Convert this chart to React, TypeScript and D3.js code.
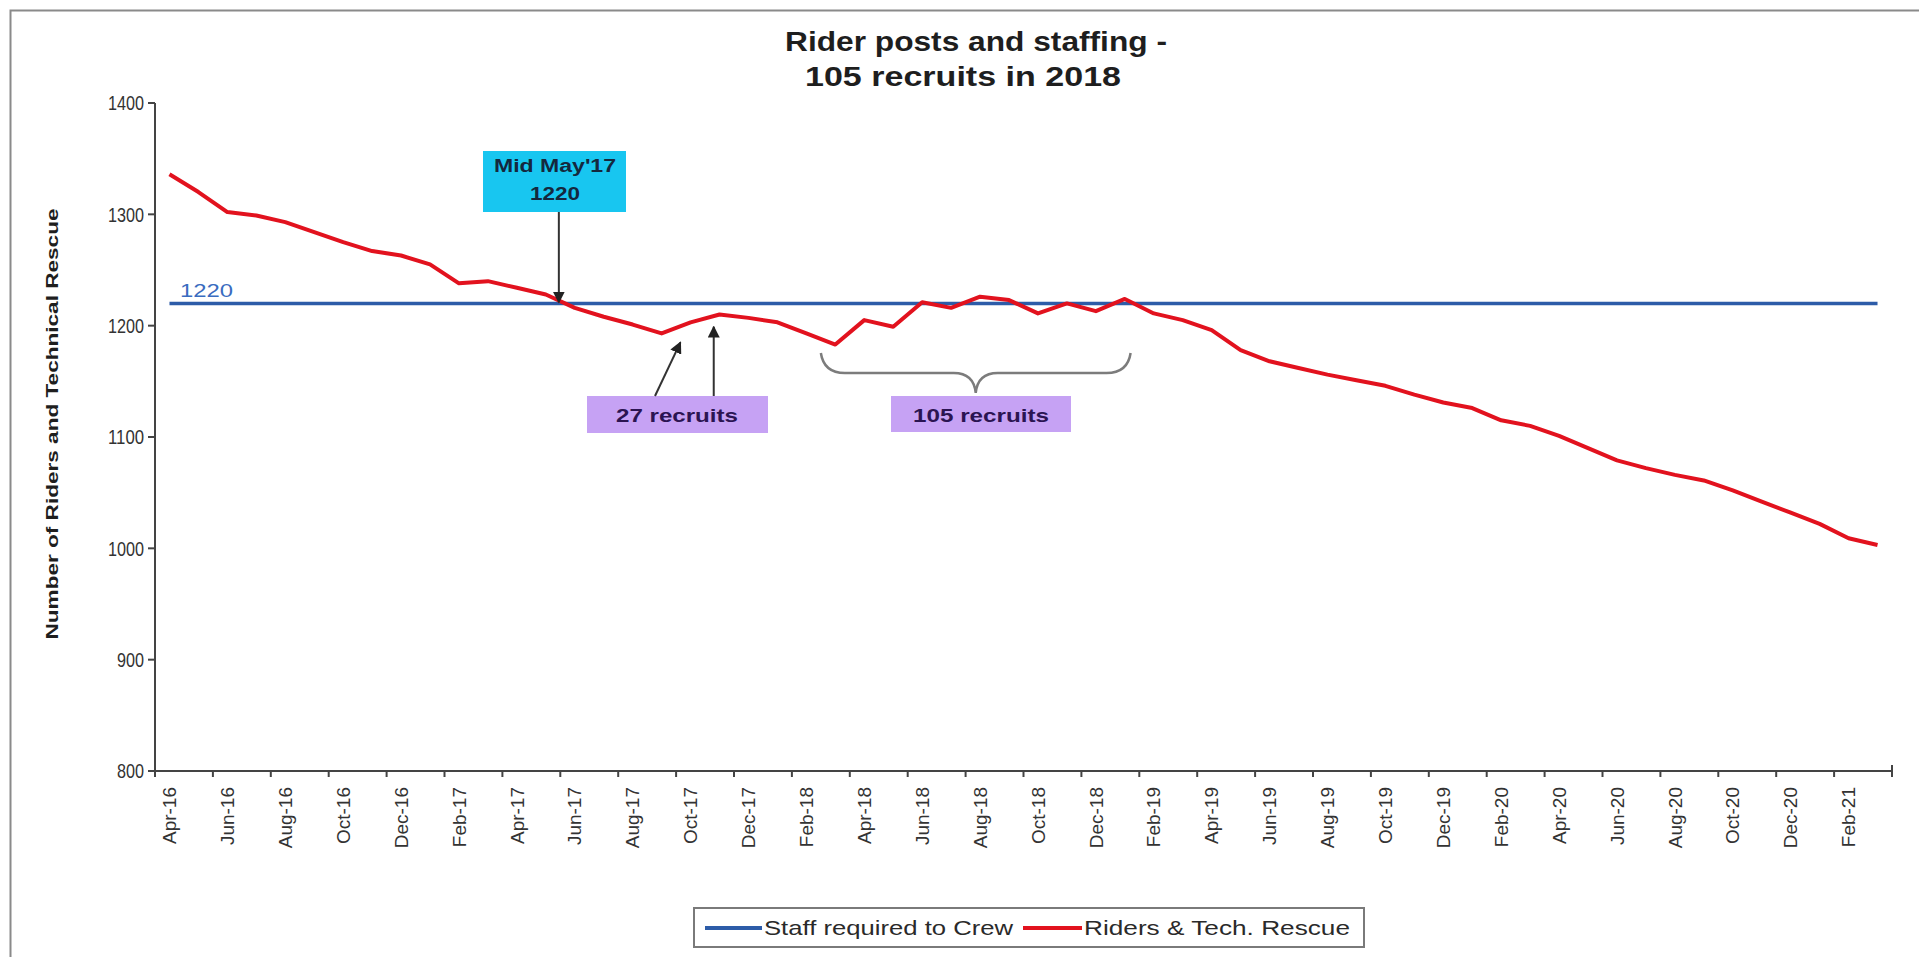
import React from "react";
import * as d3 from "d3";

// categories: one per month, Apr-16 .. Mar-21
const months = [
  "Apr-16", "May-16", "Jun-16", "Jul-16", "Aug-16", "Sep-16", "Oct-16", "Nov-16", "Dec-16",
  "Jan-17", "Feb-17", "Mar-17", "Apr-17", "May-17", "Jun-17", "Jul-17", "Aug-17", "Sep-17",
  "Oct-17", "Nov-17", "Dec-17", "Jan-18", "Feb-18", "Mar-18", "Apr-18", "May-18", "Jun-18",
  "Jul-18", "Aug-18", "Sep-18", "Oct-18", "Nov-18", "Dec-18", "Jan-19", "Feb-19", "Mar-19",
  "Apr-19", "May-19", "Jun-19", "Jul-19", "Aug-19", "Sep-19", "Oct-19", "Nov-19", "Dec-19",
  "Jan-20", "Feb-20", "Mar-20", "Apr-20", "May-20", "Jun-20", "Jul-20", "Aug-20", "Sep-20",
  "Oct-20", "Nov-20", "Dec-20", "Jan-21", "Feb-21", "Mar-21",
];

// Riders & Tech. Rescue
const riders = [
  1336, 1320, 1302, 1299, 1293, 1284, 1275, 1267, 1263,
  1255, 1238, 1240, 1234, 1228, 1216, 1208, 1201, 1193,
  1203, 1210, 1207, 1203, 1193, 1183, 1205, 1199, 1221,
  1216, 1226, 1223, 1211, 1220, 1213, 1224, 1211, 1205,
  1196, 1178, 1168, 1162, 1156, 1151, 1146, 1138, 1131,
  1126, 1115, 1110, 1101, 1090, 1079, 1072, 1066, 1061,
  1052, 1042, 1032, 1022, 1009, 1003,
];

// Staff required to Crew
const required = 1220;

const yTicks = [800, 900, 1000, 1100, 1200, 1300, 1400];
const xTickLabels = months.filter((_, i) => i % 2 === 0);

const W = 1919;
const H = 957;
const FONT = "'Liberation Sans', Arial, sans-serif";

const x = d3.scaleBand<string>().domain(months).range([155, 1892]);
const y = d3.scaleLinear().domain([800, 1400]).range([771, 103]);
const bw = x.bandwidth();
const xc = (m: string) => (x(m) as number) + bw / 2;
// fractional month position (index units) -> pixel
const xi = (i: number) => 155 + (i + 0.5) * bw;

const redLine = d3
  .line<number>()
  .x((_, i) => xc(months[i]))
  .y((d) => y(d))(riders) as string;

const Arrow = ({ x1, y1, x2, y2 }: { x1: number; y1: number; x2: number; y2: number }) => (
  <line x1={x1} y1={y1} x2={x2} y2={y2} stroke="#333" strokeWidth={2} markerEnd="url(#arr)" />
);

export default function App() {
  const x0 = xc(months[0]);
  const x1 = xc(months[months.length - 1]);
  const yReq = y(required);
  const midMayX = xi(13.45);
  const braceL = xi(22.5);
  const braceR = xi(33.2);
  const braceM = (braceL + braceR) / 2;
  const bt = 353;

  return (
    <svg
      width={W}
      height={H}
      style={{ position: "absolute", left: 0, top: 0, background: "#fff" }}
      fontFamily={FONT}
    >
      <defs>
        <marker id="arr" viewBox="0 0 10 10" refX="9" refY="5" markerWidth="6" markerHeight="6" orient="auto-start-reverse" markerUnits="strokeWidth">
          <path d="M0,0 L10,5 L0,10 z" fill="#222" />
        </marker>
      </defs>

      <rect x={10.5} y={10.5} width={W + 10} height={H + 10} fill="none" stroke="#8a8a8a" strokeWidth={2} />

      {/* title */}
      <text x={785} y={51} fontSize={27} fontWeight="bold" fill="#1e1e1e" textLength={382} lengthAdjust="spacingAndGlyphs">
        Rider posts and staffing -
      </text>
      <text x={805} y={86} fontSize={27} fontWeight="bold" fill="#1e1e1e" textLength={316} lengthAdjust="spacingAndGlyphs">
        105 recruits in 2018
      </text>

      {/* y axis */}
      <line x1={155} x2={155} y1={y(1400)} y2={y(800)} stroke="#444" strokeWidth={2} />
      {yTicks.map((t) => (
        <g key={t}>
          <line x1={148} x2={155} y1={y(t)} y2={y(t)} stroke="#444" strokeWidth={2} />
          <text x={144} y={y(t)} dy="0.36em" textAnchor="end" fontSize={20} fill="#333"
            textLength={String(t).length * 9} lengthAdjust="spacingAndGlyphs">
            {t}
          </text>
        </g>
      ))}
      <text
        transform={`translate(58,424) rotate(-90)`}
        textAnchor="middle"
        fontSize={17}
        fontWeight="bold"
        fill="#1e1e1e"
        textLength={431}
        lengthAdjust="spacingAndGlyphs"
      >
        Number of Riders and Technical Rescue
      </text>

      {/* x axis */}
      <line x1={155} x2={1892} y1={771} y2={771} stroke="#444" strokeWidth={2} />
      {xTickLabels.map((m) => (
        <line key={m} x1={x(m)} x2={x(m)} y1={771} y2={777} stroke="#444" strokeWidth={2} />
      ))}
      <line x1={1892} x2={1892} y1={765} y2={777} stroke="#444" strokeWidth={2} />
      {xTickLabels.map((m) => (
        <text
          key={m}
          transform={`translate(${xc(m)},787) rotate(-90)`}
          dy="0.35em"
          textAnchor="end"
          fontSize={19}
          fill="#333"
        >
          {m}
        </text>
      ))}

      {/* series */}
      <line x1={x0} x2={x1} y1={yReq} y2={yReq} stroke="#2d5ca8" strokeWidth={3.5} />
      <text x={180} y={297} fontSize={19} fill="#3a6cc0" textLength={53} lengthAdjust="spacingAndGlyphs">
        1220
      </text>
      <path d={redLine} fill="none" stroke="#e2121e" strokeWidth={4} strokeLinejoin="round" />

      {/* Mid May'17 annotation */}
      <rect x={483} y={151} width={143} height={61} fill="#18c6f0" />
      <text x={555} y={172} textAnchor="middle" fontSize={18} fontWeight="bold" fill="#14283e"
        textLength={122} lengthAdjust="spacingAndGlyphs">
        Mid May'17
      </text>
      <text x={555} y={200} textAnchor="middle" fontSize={18} fontWeight="bold" fill="#14283e"
        textLength={50} lengthAdjust="spacingAndGlyphs">
        1220
      </text>
      <Arrow x1={midMayX} y1={212} x2={midMayX} y2={yReq - 1} />

      {/* 27 recruits */}
      <rect x={587} y={396} width={181} height={37} fill="#c6a2f4" />
      <text x={677} y={422} textAnchor="middle" fontSize={19} fontWeight="bold" fill="#2b1452"
        textLength={122} lengthAdjust="spacingAndGlyphs">
        27 recruits
      </text>
      <Arrow x1={655} y1={396} x2={xi(17.65)} y2={y(1185)} />
      <Arrow x1={xi(18.8)} y1={396} x2={xi(18.8)} y2={y(1199)} />

      {/* 105 recruits */}
      <path
        d={`M${braceL},${bt} Q${braceL + 3},${bt + 20} ${braceL + 24},${bt + 20} L${braceM - 22},${bt + 20} Q${braceM - 2},${bt + 20} ${braceM},${bt + 40} Q${braceM + 2},${bt + 20} ${braceM + 22},${bt + 20} L${braceR - 24},${bt + 20} Q${braceR - 3},${bt + 20} ${braceR},${bt}`}
        fill="none"
        stroke="#7c7c7c"
        strokeWidth={2.5}
      />
      <rect x={891} y={396} width={180} height={36} fill="#c6a2f4" />
      <text x={981} y={422} textAnchor="middle" fontSize={19} fontWeight="bold" fill="#2b1452"
        textLength={136} lengthAdjust="spacingAndGlyphs">
        105 recruits
      </text>

      {/* legend */}
      <rect x={694} y={908} width={670} height={39} fill="#fff" stroke="#7a7a7a" strokeWidth={2} />
      <line x1={705} x2={762} y1={928} y2={928} stroke="#2d5ca8" strokeWidth={4} />
      <text x={764} y={935} fontSize={21} fill="#2a2a2a" textLength={249} lengthAdjust="spacingAndGlyphs">
        Staff required to Crew
      </text>
      <line x1={1023} x2={1082} y1={928} y2={928} stroke="#e2121e" strokeWidth={4} />
      <text x={1084} y={935} fontSize={21} fill="#2a2a2a" textLength={266} lengthAdjust="spacingAndGlyphs">
        Riders &amp; Tech. Rescue
      </text>
    </svg>
  );
}
